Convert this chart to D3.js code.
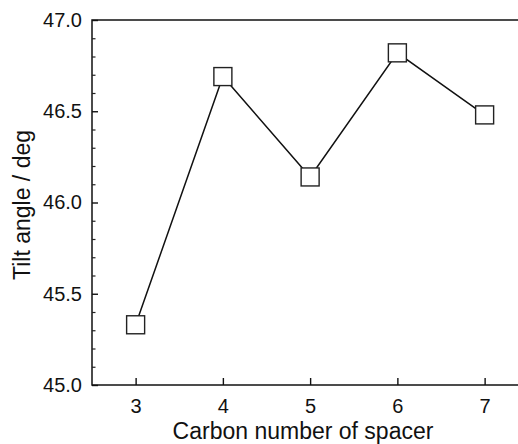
<!DOCTYPE html>
<html>
<head>
<meta charset="utf-8">
<script src="https://cdn.jsdelivr.net/npm/d3@7"></script>
<style>
  body { margin: 0; background: #fff; }
  svg { display: block; font-family: "Liberation Sans", Arial, sans-serif; }
</style>
</head>
<body>
<div id="chart"></div>
<script>
// data
var carbon = [3, 4, 5, 6, 7];
var tilt = [45.33, 46.69, 46.14, 46.82, 46.48];
var yTicks = [45.0, 45.5, 46.0, 46.5, 47.0];
var xTicks = [3, 4, 5, 6, 7];

var width = 518, height = 444;
var plotLeft = 92, plotTop = 20, plotBottom = 385;

var svg = d3.select("#chart").append("svg")
    .attr("width", width)
    .attr("height", height);

var x = d3.scaleLinear()
    .domain([2.5, 7.5])
    .range([plotLeft, plotLeft + 5 * 87.25]);

var y = d3.scaleLinear()
    .domain([45, 47])
    .range([plotBottom, plotTop]);

// frame (right side runs off the picture)
svg.append("rect")
    .attr("x", plotLeft)
    .attr("y", plotTop)
    .attr("width", x(7.5) - plotLeft)
    .attr("height", plotBottom - plotTop)
    .attr("fill", "none")
    .attr("stroke", "#111")
    .attr("stroke-width", 1.5);

// minor y ticks
var minor = d3.range(45.1, 47, 0.1).filter(function(d) {
  return Math.abs(d * 2 - Math.round(d * 2)) > 0.01;
});
svg.append("g")
    .attr("transform", "translate(" + plotLeft + ",0)")
    .call(d3.axisLeft(y).tickValues(minor).tickSize(-3.5).tickFormat(""))
    .call(g => g.select(".domain").remove())
    .call(g => g.selectAll(".tick line").attr("stroke", "#222").attr("stroke-width", 1.2));

// major y axis
svg.append("g")
    .attr("transform", "translate(" + plotLeft + ",0)")
    .call(d3.axisLeft(y).tickValues(yTicks).tickSize(-6).tickPadding(10)
      .tickFormat(d3.format(".1f")))
    .call(g => g.select(".domain").remove())
    .call(g => g.selectAll(".tick line").attr("stroke", "#111").attr("stroke-width", 1.4))
    .call(g => g.selectAll(".tick text")
      .attr("font-size", "20px")
      .attr("fill", "#111"));

// x axis
svg.append("g")
    .attr("transform", "translate(0," + plotBottom + ")")
    .call(d3.axisBottom(x).tickValues(xTicks).tickSize(-7).tickPadding(14)
      .tickFormat(d3.format("d")))
    .call(g => g.select(".domain").remove())
    .call(g => g.selectAll(".tick line").attr("stroke", "#111").attr("stroke-width", 1.4))
    .call(g => g.selectAll(".tick text")
      .attr("font-size", "20px")
      .attr("fill", "#111"));

// axis titles
svg.append("text")
    .attr("x", 303)
    .attr("y", 439)
    .attr("text-anchor", "middle")
    .attr("font-size", "23px")
    .attr("fill", "#111")
    .text("Carbon number of spacer");

svg.append("text")
    .attr("transform", "translate(30,205) rotate(-90)")
    .attr("text-anchor", "middle")
    .attr("font-size", "23px")
    .attr("fill", "#111")
    .text("Tilt angle / deg");

// line
var pts = carbon.map(function(c, i) { return [c, tilt[i]]; });
svg.append("path")
    .datum(pts)
    .attr("fill", "none")
    .attr("stroke", "#111")
    .attr("stroke-width", 1.5)
    .attr("d", d3.line()
      .x(function(d) { return x(d[0]); })
      .y(function(d) { return y(d[1]); }));

// square markers
var s = 18;
svg.selectAll("rect.pt")
    .data(pts)
    .join("rect")
    .attr("class", "pt")
    .attr("x", function(d) { return x(d[0]) - s / 2; })
    .attr("y", function(d) { return y(d[1]) - s / 2; })
    .attr("width", s)
    .attr("height", s)
    .attr("fill", "#fff")
    .attr("stroke", "#222")
    .attr("stroke-width", 1.4);
</script>
</body>
</html>
